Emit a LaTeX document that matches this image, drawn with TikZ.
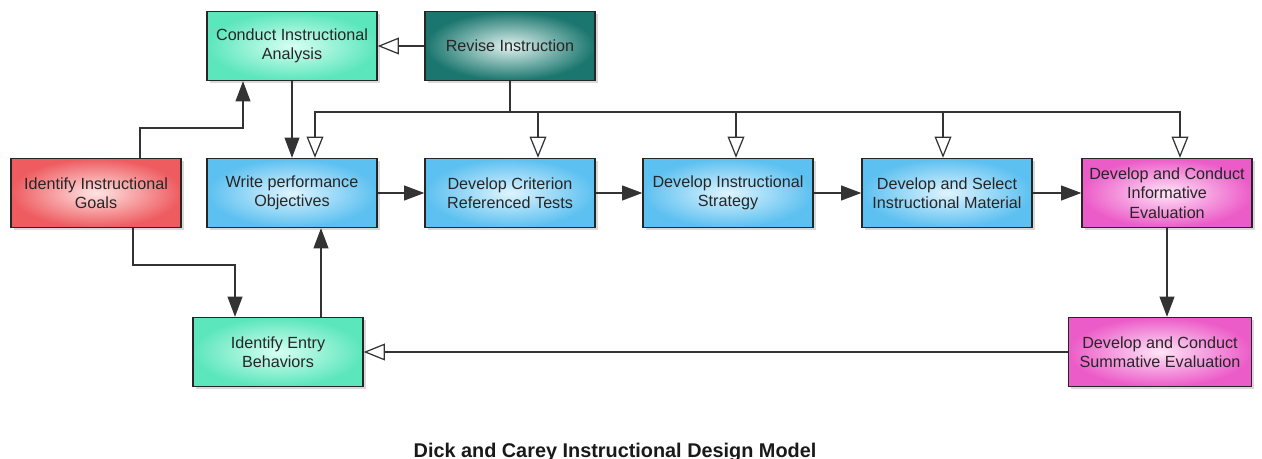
\documentclass[tikz,border=0pt]{standalone}
\usepackage{fontspec}
\setmainfont{Liberation Sans}
\usepackage{xcolor}
\usetikzlibrary{arrows.meta,shadows,positioning}
\definecolor{mintout}{RGB}{92,230,188}
\definecolor{mintin}{RGB}{215,255,242}
\definecolor{tealout}{RGB}{26,118,110}
\definecolor{tealin}{RGB}{225,242,240}
\definecolor{redout}{RGB}{238,92,96}
\definecolor{redin}{RGB}{255,228,228}
\definecolor{blueout}{RGB}{92,192,240}
\definecolor{bluein}{RGB}{222,244,255}
\definecolor{pinkout}{RGB}{236,92,200}
\definecolor{pinkin}{RGB}{255,228,248}
\tikzset{
stage/.style={draw=black!85,line width=0.8pt,minimum width=3.4cm,minimum height=1.38cm,align=center,text=black!85,font=\fontsize{9.2}{11}\selectfont,drop shadow={shadow xshift=1.5pt,shadow yshift=-1.5pt,opacity=0.3}},
mintbox/.style={stage,inner color=mintin,outer color=mintout},
tealbox/.style={stage,inner color=tealin,outer color=tealout},
redbox/.style={stage,inner color=redin,outer color=redout},
bluebox/.style={stage,inner color=bluein,outer color=blueout},
pinkbox/.style={stage,inner color=pinkin,outer color=pinkout},
flow/.style={-{Triangle[length=11.5pt,width=8.5pt]},line width=0.7pt,black!80},
back/.style={-{Triangle[open,length=12pt,width=9.5pt,fill=white]},line width=0.7pt,black!80}
}
\begin{document}
\begin{tikzpicture}[x=0.02cm,y=-0.02cm]
\useasboundingbox (0,0) rectangle (1262,459);
\node[mintbox](analysis)at(292,46){Conduct Instructional\\Analysis};
\node[tealbox](revise)at(510,46){Revise Instruction};
\node[redbox](goals)at(96,193){Identify Instructional\\Goals};
\node[bluebox](write)at(292,193){Write performance\\Objectives};
\node[bluebox](criterion)at(510,193){Develop Criterion\\Referenced Tests};
\node[bluebox](strategy)at(728,193){Develop Instructional\\Strategy};
\node[bluebox](material)at(947,193){Develop and Select\\Instructional Material};
\node[pinkbox](informative)at(1167,193){Develop and Conduct\\Informative\\Evaluation};
\node[mintbox](entry)at(278,352){Identify Entry\\Behaviors};
\node[pinkbox,minimum width=3.66cm](summative)at(1160,352){Develop and Conduct\\Summative Evaluation};
\node[font=\bfseries\fontsize{11.3}{13}\selectfont,text=black!90](title)at(615,452){Dick and Carey Instructional Design Model};
\coordinate(gup)at(243,128);
\coordinate(gdown)at(235,265);
\coordinate(bus)at(510,112);
\draw[flow]([xshift=0.88cm]goals.north)|-(gup)--(analysis.south-|gup);
\draw[flow](analysis)--(write);
\draw[back](revise)--(analysis);
\draw[line width=0.7pt,black!80](revise)--(bus);
\draw[back](bus)-|([xshift=0.46cm]write.north);
\draw[back](bus)-|([xshift=0.56cm]criterion.north);
\draw[back](bus)-|([xshift=0.16cm]strategy.north);
\draw[back](bus)-|([xshift=-0.08cm]material.north);
\draw[back](bus)-|([xshift=0.26cm]informative.north);
\draw[flow](write)--(criterion);
\draw[flow](criterion)--(strategy);
\draw[flow](strategy)--(material);
\draw[flow](material)--(informative);
\draw[flow]([xshift=0.74cm]goals.south)|-(gdown)--(entry.north-|gdown);
\draw[flow]([xshift=0.86cm]entry.north)--([xshift=0.86cm]entry.north|-write.south);
\draw[flow](informative)--(informative|-summative.north);
\draw[back](summative)--(entry);
\end{tikzpicture}
\end{document}
